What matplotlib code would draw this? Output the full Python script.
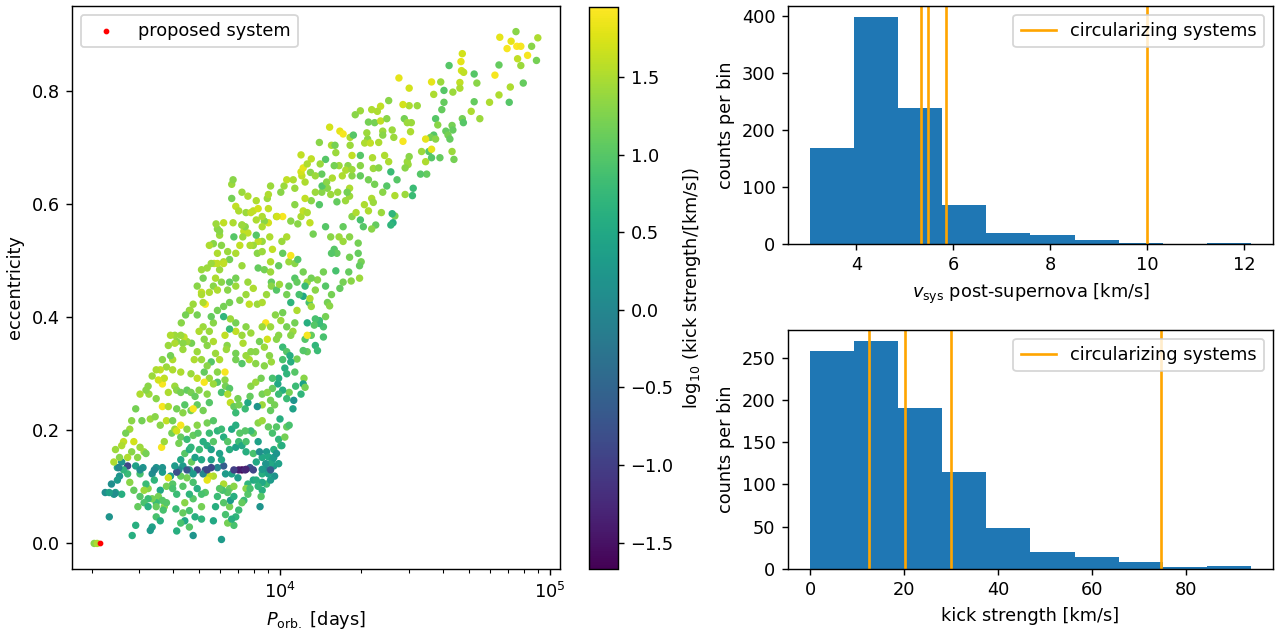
import numpy as np
import matplotlib
matplotlib.use("Agg")
from matplotlib import pyplot as plt

# scatter: orbital period (log10 days), eccentricity, log10 kick strength
log_period = [
    4.874, 4.814, 4.856, 4.877, 4.892, 4.841, 4.932, 4.955, 4.917, 4.880,
    4.950, 4.892, 4.811, 4.796, 4.901, 4.853, 4.849, 4.811, 4.776, 4.740,
    4.675, 4.670, 4.672, 4.680, 4.626, 4.719, 4.729, 4.666, 4.666, 4.640,
    4.607, 4.595, 4.561, 4.569, 4.607, 4.719, 4.708, 4.675, 4.637, 4.640,
    4.679, 4.599, 4.576, 4.584, 4.614, 4.569, 4.557, 4.592, 4.637, 4.551,
    4.539, 4.524, 4.543, 4.520, 4.486, 4.483, 4.508, 4.478, 4.440, 4.402,
    4.478, 4.402, 4.372, 4.360, 4.455, 4.460, 4.471, 4.455, 4.471, 4.474,
    4.463, 4.433, 4.410, 4.493, 4.490, 4.463, 4.425, 4.415, 4.418, 4.410,
    4.425, 4.297, 4.278, 4.339, 4.327, 4.380, 4.324, 4.365, 4.380, 4.415,
    4.421, 4.342, 4.297, 4.345, 4.395, 4.350, 4.380, 4.339, 4.312, 4.345,
    4.327, 4.375, 4.354, 4.339, 4.297, 4.308, 4.266, 4.281, 4.257, 4.242,
    4.257, 4.266, 4.213, 4.210, 4.175, 4.187, 4.154, 4.130, 4.145, 4.115,
    4.092, 4.077, 4.085, 4.054, 4.092, 4.080, 4.077, 4.085, 4.115, 4.145,
    4.168, 4.183, 4.190, 4.203, 4.221, 4.233, 4.259, 4.206, 4.218, 4.230,
    4.251, 4.271, 4.266, 4.297, 4.327, 4.365, 4.154, 4.155, 4.200, 4.039,
    4.009, 3.986, 4.065, 4.100, 4.110, 4.122, 4.168, 4.187, 4.218, 4.233,
    4.233, 4.257, 4.200, 4.210, 4.190, 4.257, 4.289, 4.289, 4.300, 4.294,
    4.254, 4.263, 4.294, 4.233, 4.221, 4.206, 4.160, 4.168, 4.138, 4.190,
    4.175, 4.183, 4.168, 4.145, 4.160, 4.145, 4.130, 4.126, 4.160, 4.130,
    4.138, 4.100, 4.085, 4.115, 4.100, 4.107, 4.115, 4.130, 4.100, 4.085,
    4.110, 4.115, 4.085, 4.054, 4.062, 4.070, 4.092, 4.032, 4.032, 4.054,
    4.039, 4.065, 4.024, 4.006, 4.009, 3.994, 3.964, 3.971, 3.961, 3.956,
    3.941, 3.956, 3.933, 3.918, 3.911, 3.900, 3.888, 3.880, 3.865, 3.870,
    3.858, 3.873, 3.891, 3.911, 3.915, 3.933, 3.918, 3.941, 3.964, 3.967,
    3.967, 3.986, 3.997, 4.024, 4.009, 4.002, 3.982, 4.039, 4.062, 4.054,
    4.024, 3.994, 3.986, 4.009, 4.024, 4.036, 4.062, 4.092, 4.100, 4.047,
    4.039, 4.009, 4.039, 4.017, 4.024, 4.054, 4.088, 4.085, 4.092, 4.077,
    4.057, 4.033, 4.009, 3.991, 3.994, 3.971, 3.971, 3.994, 4.024, 4.047,
    4.050, 3.858, 3.880, 3.900, 3.918, 3.952, 3.988, 3.933, 3.820, 3.820,
    3.825, 3.835, 3.846, 3.858, 3.828, 3.805, 3.812, 3.835, 3.850, 3.858,
    3.835, 3.812, 3.790, 3.782, 3.775, 3.767, 3.790, 3.767, 3.755, 3.752,
    3.767, 3.782, 3.805, 3.835, 3.880, 3.900, 3.873, 3.850, 3.812, 3.790,
    3.767, 3.885, 3.915, 3.933, 3.949, 3.946, 3.933, 3.964, 3.952, 3.923,
    3.941, 3.909, 3.960, 3.967, 3.941, 3.909, 3.885, 3.873, 3.891, 3.862,
    3.858, 3.873, 3.891, 3.835, 3.835, 3.815, 3.790, 3.812, 3.795, 3.803,
    3.800, 3.835, 3.835, 3.858, 3.752, 3.744, 3.737, 3.714, 3.699, 3.718,
    3.752, 3.760, 3.775, 3.744, 3.729, 3.692, 3.681, 3.708, 3.671, 3.654,
    3.643, 3.639, 3.692, 3.722, 3.737, 3.708, 3.714, 3.760, 3.775, 3.790,
    3.767, 3.663, 3.616, 3.609, 3.631, 3.609, 3.639, 3.563, 3.601, 3.578,
    3.631, 3.669, 3.692, 3.718, 3.729, 3.737, 3.767, 3.795, 3.795, 3.767,
    3.752, 3.797, 3.812, 3.782, 3.805, 3.815, 3.828, 3.843, 3.847, 3.835,
    3.870, 3.880, 3.888, 3.891, 3.909, 3.929, 3.933, 3.952, 3.964, 3.979,
    3.964, 3.933, 3.915, 3.918, 3.933, 3.956, 3.971, 3.986, 4.024, 4.033,
    3.999, 3.994, 4.002, 3.976, 3.949, 3.956, 3.971, 3.976, 3.964, 3.952,
    3.946, 3.933, 3.918, 3.900, 3.891, 3.870, 3.900, 3.923, 3.911, 3.933,
    3.949, 3.933, 3.929, 3.925, 3.900, 3.880, 3.873, 3.880, 3.865, 3.858,
    3.846, 3.835, 3.828, 3.805, 3.820, 3.812, 3.815, 3.828, 3.812, 3.828,
    3.805, 3.790, 3.786, 3.843, 3.820, 3.858, 3.846, 3.870, 3.888, 3.797,
    3.790, 3.767, 3.752, 3.737, 3.729, 3.722, 3.714, 3.744, 3.775, 3.767,
    3.760, 3.752, 3.782, 3.797, 3.790, 3.722, 3.708, 3.708, 3.708, 3.684,
    3.677, 3.663, 3.663, 3.677, 3.692, 3.677, 3.663, 3.646, 3.639, 3.646,
    3.631, 3.616, 3.613, 3.616, 3.639, 3.654, 3.631, 3.663, 3.671, 3.684,
    3.692, 3.677, 3.639, 3.624, 3.616, 3.609, 3.631, 3.646, 3.663, 3.593,
    3.601, 3.578, 3.585, 3.563, 3.540, 3.525, 3.533, 3.555, 3.548, 3.570,
    3.563, 3.540, 3.525, 3.510, 3.502, 3.480, 3.491, 3.464, 3.471, 3.434,
    3.434, 3.442, 3.412, 3.404, 3.419, 3.412, 3.389, 3.383, 3.366, 3.451,
    3.464, 3.525, 3.518, 3.480, 3.495, 3.510, 3.578, 3.566, 3.540, 3.601,
    3.419, 3.457, 3.449, 3.480, 3.495, 3.502, 3.487, 3.518, 3.536, 3.555,
    3.560, 3.570, 3.598, 3.609, 3.578, 3.616, 3.601, 3.631, 3.654, 3.631,
    3.624, 3.654, 3.669, 3.677, 3.692, 3.695, 3.714, 3.729, 3.744, 3.752,
    3.737, 3.729, 3.752, 3.767, 3.782, 3.790, 3.805, 3.812, 3.835, 3.846,
    3.858, 3.873, 3.873, 3.820, 3.835, 3.850, 3.782, 3.775, 3.744, 3.708,
    3.700, 3.513, 3.540, 3.563, 3.563, 3.585, 3.585, 3.555, 3.570, 3.548,
    3.601, 3.609, 3.616, 3.631, 3.654, 3.669, 3.684, 3.699, 3.718, 3.729,
    3.737, 3.714, 3.692, 3.669, 3.677, 3.646, 3.639, 3.616, 3.351, 3.404,
    3.396, 3.434, 3.457, 3.472, 3.495, 3.510, 3.540, 3.555, 3.310, 3.321,
    3.825, 3.861, 3.911, 3.933, 3.956, 3.964, 4.002, 4.014, 4.024, 4.048,
    4.054, 4.077, 4.100, 4.112, 4.130, 4.148, 4.172, 4.193, 4.243, 4.248,
    4.266, 4.297, 4.259, 4.313, 4.334, 4.387, 4.321, 4.350, 4.372, 4.395,
    4.478, 4.539, 4.561, 4.576, 4.622, 4.629, 4.561, 4.644, 3.979, 3.964,
    3.956, 3.933, 3.911, 3.888, 3.918, 3.964, 3.976, 3.986, 3.994, 4.006,
    4.017, 3.480, 3.533, 3.563, 3.654, 3.729, 3.828, 3.873, 3.900, 3.933,
    3.401, 3.762, 3.775, 3.752, 3.737, 3.744, 3.729, 3.708, 3.714, 3.692,
    3.708, 3.677, 3.666, 3.649, 3.633, 3.593, 3.585, 3.593, 3.540, 3.525,
    3.510, 3.502, 3.480, 3.464, 3.449, 3.442, 3.427, 3.412, 3.389, 3.383,
    3.396, 3.374, 3.386, 3.366,
]

ecc = [
    0.905, 0.895, 0.888, 0.879, 0.879, 0.875, 0.879, 0.894, 0.863, 0.857,
    0.854, 0.845, 0.846, 0.828, 0.814, 0.807, 0.780, 0.793, 0.780, 0.751,
    0.866, 0.852, 0.836, 0.833, 0.845, 0.830, 0.814, 0.815, 0.805, 0.798,
    0.801, 0.816, 0.816, 0.794, 0.780, 0.781, 0.764, 0.751, 0.739, 0.731,
    0.744, 0.767, 0.751, 0.740, 0.729, 0.722, 0.718, 0.682, 0.693, 0.693,
    0.715, 0.693, 0.653, 0.653, 0.744, 0.728, 0.774, 0.805, 0.823, 0.783,
    0.774, 0.675, 0.773, 0.764, 0.776, 0.751, 0.744, 0.711, 0.675, 0.670,
    0.664, 0.643, 0.657, 0.628, 0.615, 0.617, 0.579, 0.583, 0.567, 0.563,
    0.615, 0.765, 0.758, 0.767, 0.745, 0.729, 0.715, 0.709, 0.722, 0.731,
    0.718, 0.682, 0.686, 0.663, 0.632, 0.635, 0.621, 0.610, 0.599, 0.603,
    0.588, 0.585, 0.563, 0.556, 0.572, 0.560, 0.578, 0.585, 0.614, 0.606,
    0.628, 0.650, 0.621, 0.604, 0.628, 0.617, 0.621, 0.621, 0.599, 0.606,
    0.610, 0.578, 0.588, 0.599, 0.639, 0.650, 0.657, 0.664, 0.680, 0.709,
    0.679, 0.736, 0.704, 0.704, 0.729, 0.724, 0.718, 0.691, 0.668, 0.650,
    0.668, 0.722, 0.686, 0.650, 0.643, 0.664, 0.653, 0.632, 0.668, 0.570,
    0.578, 0.578, 0.565, 0.585, 0.567, 0.547, 0.560, 0.542, 0.542, 0.560,
    0.534, 0.542, 0.520, 0.513, 0.513, 0.506, 0.531, 0.513, 0.498, 0.491,
    0.480, 0.464, 0.469, 0.462, 0.451, 0.482, 0.480, 0.455, 0.466, 0.440,
    0.426, 0.420, 0.401, 0.394, 0.383, 0.389, 0.397, 0.386, 0.365, 0.350,
    0.341, 0.339, 0.341, 0.368, 0.390, 0.426, 0.419, 0.448, 0.462, 0.437,
    0.433, 0.469, 0.480, 0.469, 0.462, 0.440, 0.455, 0.455, 0.498, 0.495,
    0.509, 0.502, 0.542, 0.534, 0.513, 0.491, 0.498, 0.520, 0.542, 0.567,
    0.570, 0.592, 0.534, 0.534, 0.545, 0.527, 0.527, 0.549, 0.552, 0.560,
    0.563, 0.585, 0.585, 0.572, 0.513, 0.516, 0.487, 0.484, 0.480, 0.462,
    0.455, 0.448, 0.458, 0.440, 0.408, 0.394, 0.404, 0.426, 0.412, 0.390,
    0.383, 0.368, 0.361, 0.347, 0.339, 0.332, 0.326, 0.361, 0.368, 0.375,
    0.368, 0.325, 0.321, 0.310, 0.300, 0.303, 0.292, 0.282, 0.276, 0.264,
    0.278, 0.267, 0.271, 0.282, 0.292, 0.292, 0.274, 0.264, 0.256, 0.238,
    0.253, 0.621, 0.614, 0.588, 0.592, 0.610, 0.578, 0.560, 0.610, 0.635,
    0.643, 0.596, 0.588, 0.563, 0.542, 0.516, 0.502, 0.513, 0.527, 0.491,
    0.469, 0.462, 0.498, 0.527, 0.545, 0.556, 0.567, 0.513, 0.495, 0.455,
    0.448, 0.462, 0.448, 0.455, 0.462, 0.451, 0.440, 0.430, 0.426, 0.419,
    0.412, 0.423, 0.423, 0.426, 0.440, 0.390, 0.383, 0.383, 0.361, 0.357,
    0.347, 0.339, 0.332, 0.321, 0.314, 0.318, 0.325, 0.332, 0.339, 0.354,
    0.368, 0.383, 0.372, 0.375, 0.390, 0.397, 0.401, 0.379, 0.368, 0.350,
    0.343, 0.336, 0.325, 0.318, 0.390, 0.401, 0.375, 0.383, 0.375, 0.361,
    0.357, 0.336, 0.325, 0.321, 0.350, 0.339, 0.325, 0.325, 0.354, 0.357,
    0.365, 0.354, 0.404, 0.423, 0.444, 0.444, 0.426, 0.469, 0.484, 0.495,
    0.495, 0.412, 0.357, 0.368, 0.368, 0.354, 0.343, 0.325, 0.325, 0.312,
    0.303, 0.300, 0.292, 0.303, 0.314, 0.292, 0.303, 0.303, 0.289, 0.285,
    0.282, 0.278, 0.274, 0.267, 0.264, 0.249, 0.242, 0.256, 0.245, 0.231,
    0.238, 0.249, 0.260, 0.278, 0.285, 0.292, 0.264, 0.267, 0.253, 0.245,
    0.235, 0.245, 0.242, 0.213, 0.217, 0.206, 0.195, 0.206, 0.206, 0.209,
    0.220, 0.184, 0.173, 0.166, 0.162, 0.153, 0.148, 0.137, 0.141, 0.130,
    0.141, 0.152, 0.180, 0.195, 0.199, 0.199, 0.159, 0.162, 0.144, 0.123,
    0.105, 0.094, 0.083, 0.065, 0.112, 0.105, 0.097, 0.087, 0.076, 0.072,
    0.059, 0.047, 0.032, 0.036, 0.043, 0.065, 0.076, 0.083, 0.097, 0.101,
    0.090, 0.105, 0.094, 0.116, 0.123, 0.130, 0.130, 0.130, 0.134, 0.123,
    0.137, 0.134, 0.119, 0.119, 0.112, 0.130, 0.123, 0.134, 0.097, 0.083,
    0.065, 0.040, 0.007, 0.051, 0.072, 0.090, 0.087, 0.065, 0.043, 0.047,
    0.014, 0.029, 0.058, 0.079, 0.097, 0.108, 0.087, 0.072, 0.054, 0.040,
    0.036, 0.022, 0.061, 0.087, 0.101, 0.116, 0.119, 0.130, 0.144, 0.152,
    0.130, 0.123, 0.137, 0.130, 0.126, 0.137, 0.148, 0.159, 0.166, 0.119,
    0.105, 0.101, 0.116, 0.126, 0.134, 0.123, 0.112, 0.094, 0.083, 0.065,
    0.076, 0.072, 0.079, 0.097, 0.105, 0.123, 0.134, 0.137, 0.152, 0.123,
    0.137, 0.108, 0.144, 0.119, 0.130, 0.087, 0.090, 0.087, 0.047, 0.014,
    0.032, 0.029, 0.023, 0.083, 0.094, 0.079, 0.072, 0.059, 0.065, 0.097,
    0.180, 0.180, 0.162, 0.170, 0.162, 0.159, 0.217, 0.220, 0.224, 0.209,
    0.170, 0.180, 0.195, 0.202, 0.217, 0.199, 0.217, 0.209, 0.202, 0.188,
    0.177, 0.184, 0.170, 0.191, 0.209, 0.195, 0.180, 0.173, 0.166, 0.180,
    0.195, 0.213, 0.217, 0.199, 0.202, 0.188, 0.180, 0.166, 0.170, 0.180,
    0.173, 0.162, 0.180, 0.202, 0.209, 0.195, 0.148, 0.159, 0.148, 0.148,
    0.166, 0.264, 0.256, 0.282, 0.242, 0.242, 0.267, 0.307, 0.292, 0.289,
    0.307, 0.278, 0.271, 0.267, 0.271, 0.267, 0.260, 0.271, 0.285, 0.264,
    0.249, 0.235, 0.245, 0.235, 0.238, 0.245, 0.231, 0.238, 0.090, 0.152,
    0.134, 0.152, 0.094, 0.065, 0.072, 0.065, 0.047, 0.040, 0.000, 0.000,
    0.567, 0.542, 0.606, 0.578, 0.617, 0.632, 0.621, 0.632, 0.643, 0.643,
    0.628, 0.687, 0.671, 0.656, 0.650, 0.671, 0.639, 0.646, 0.660, 0.621,
    0.661, 0.668, 0.704, 0.708, 0.708, 0.686, 0.726, 0.744, 0.747, 0.751,
    0.684, 0.675, 0.697, 0.715, 0.722, 0.715, 0.682, 0.679, 0.119, 0.112,
    0.123, 0.108, 0.112, 0.097, 0.101, 0.130, 0.152, 0.159, 0.141, 0.173,
    0.188, 0.130, 0.130, 0.134, 0.130, 0.130, 0.130, 0.131, 0.130, 0.131,
    0.134, 0.565, 0.552, 0.530, 0.527, 0.495, 0.487, 0.484, 0.469, 0.455,
    0.440, 0.423, 0.412, 0.404, 0.390, 0.368, 0.350, 0.332, 0.307, 0.296,
    0.278, 0.271, 0.264, 0.238, 0.217, 0.202, 0.195, 0.173, 0.166, 0.144,
    0.112, 0.105, 0.088, 0.090,
]

log_kick = [
    1.3, 1.8, 1.8, 1.95, 1.9, 1.9, 1.3, 1.5, 1.9, 1.6,
    1.2, 1.4, 1.1, 1.9, 1.1, 1.5, 1.0, 1.5, 1.5, 1.4,
    1.7, 1.8, 1.7, 1.6, 1.0, 1.0, 1.3, 1.6, 1.5, 1.4,
    1.0, 1.4, 1.8, 1.5, 1.1, 1.1, 1.5, 1.2, 1.2, 1.1,
    1.0, 1.1, 1.0, 1.3, 1.1, 1.0, 1.2, 1.1, 1.4, 1.0,
    1.8, 1.4, 1.1, 1.0, 1.4, 1.5, 1.4, 1.7, 1.8, 1.3,
    1.5, 1.5, 1.6, 1.5, 1.7, 1.2, 1.4, 1.9, 1.4, 1.4,
    1.3, 1.0, 0.8, 0.8, 0.8, 1.4, 1.2, 0.7, 0.6, 0.7,
    1.5, 1.4, 1.3, 1.5, 1.2, 1.4, 1.3, 1.5, 1.3, 1.4,
    1.4, 1.5, 1.0, 1.4, 1.0, 1.2, 1.3, 1.5, 1.5, 1.4,
    1.5, 1.4, 1.1, 1.3, 0.9, 1.0, 1.3, 1.5, 1.4, 1.4,
    1.5, 1.3, 1.4, 1.1, 1.3, 1.4, 1.3, 1.4, 1.0, 1.3,
    1.6, 1.5, 1.6, 1.3, 1.5, 1.6, 1.7, 1.8, 1.6, 1.3,
    1.0, 1.7, 1.5, 1.2, 1.8, 1.9, 1.5, 1.4, 1.4, 1.5,
    1.3, 1.0, 1.6, 1.1, 1.2, 1.3, 1.1, 1.0, 1.2, 1.3,
    1.9, 1.4, 1.3, 1.5, 1.6, 1.2, 1.0, 1.3, 1.4, 1.1,
    1.4, 1.3, 1.0, 1.1, 1.0, 1.2, 1.2, 1.1, 1.2, 1.1,
    1.1, 1.3, 1.4, 1.2, 1.1, 0.9, 1.2, 1.0, 1.3, 1.2,
    1.2, 1.3, 1.2, 0.8, 0.9, 0.8, 0.9, 1.0, 0.9, 0.7,
    0.8, 1.1, 1.0, 1.1, 0.6, 0.9, 1.4, 1.3, 1.4, 0.5,
    1.5, 1.2, 1.2, 1.0, 1.1, 0.9, 0.8, 1.1, 1.4, 1.3,
    1.9, 1.0, 1.5, 1.4, 1.1, 1.1, 1.5, 1.6, 1.5, 1.7,
    1.3, 1.6, 1.4, 1.6, 1.0, 1.4, 1.5, 1.6, 1.6, 1.3,
    1.4, 1.4, 1.6, 1.5, 1.3, 1.4, 1.1, 1.2, 1.4, 1.1,
    1.3, 1.0, 1.4, 1.2, 1.2, 1.4, 1.3, 0.7, 1.5, 1.2,
    1.2, 1.3, 1.3, 0.8, 1.0, 0.6, 1.2, 1.0, 1.9, 1.4,
    1.3, 0.9, 0.6, 0.6, 0.7, 1.0, 1.3, 0.4, 1.2, 0.7,
    0.8, 1.2, 0.6, 0.5, 0.6, 0.9, 1.1, 0.8, 0.8, 0.4,
    0.2, 1.4, 1.5, 1.6, 1.7, 1.4, 1.7, 1.5, 1.2, 1.4,
    1.3, 1.6, 1.5, 1.4, 1.0, 1.4, 1.2, 1.5, 1.6, 1.4,
    1.2, 1.1, 1.5, 1.3, 1.4, 1.3, 1.6, 1.5, 1.6, 1.3,
    1.5, 1.3, 1.3, 1.4, 1.4, 1.5, 1.4, 1.3, 1.2, 1.2,
    1.2, 1.6, 1.4, 1.5, 1.4, 1.9, 1.4, 1.4, 1.7, 1.2,
    1.4, 1.3, 1.3, 1.4, 1.3, 1.3, 1.5, 1.4, 1.3, 1.5,
    1.4, 1.3, 1.4, 1.6, 1.2, 1.4, 0.7, 0.8, 1.6, 1.3,
    1.4, 1.2, 1.2, 1.0, 1.3, 1.1, 1.4, 1.4, 1.5, 1.3,
    1.5, 1.4, 1.5, 1.0, 1.3, 1.4, 1.5, 1.4, 1.2, 1.4,
    1.6, 1.3, 1.2, 1.9, 1.5, 1.6, 1.5, 1.5, 1.4, 1.6,
    1.6, 1.3, 1.3, 1.4, 1.4, 1.5, 1.4, 1.3, 1.5, 1.4,
    1.5, 1.4, 1.6, 1.1, 1.3, 1.4, 1.3, 1.9, 1.3, 1.0,
    1.4, 1.2, 1.0, 0.9, 1.5, 1.6, 1.1, 1.2, 1.2, 0.8,
    0.8, 0.5, 1.1, 1.3, 1.4, 1.2, 1.2, 1.3, 1.2, 1.2,
    1.1, 1.4, 0.2, 1.3, 1.4, 1.1, 0.9, 1.0, 1.1, 0.9,
    0.6, 0.7, 1.0, 0.6, 0.3, 0.5, 0.4, 0.3, 0.5, 0.0,
    0.2, 0.5, 0.4, 1.1, 0.8, 1.0, 0.9, 0.1, 0.5, 0.6,
    0.8, 0.6, 1.0, 0.2, 0.5, 0.7, 1.3, 1.0, 0.8, 1.1,
    0.8, 0.7, 0.9, 1.2, 0.6, 1.2, 0.3, 0.6, 1.1, 1.3,
    1.0, 1.5, 0.9, 0.3, 0.4, -1.67, -1.4, -1.2, -0.7, 0.3,
    -0.6, 0.0, 1.5, 1.6, 1.8, -0.8, 0.0, -0.9, 1.0, 0.8,
    0.6, 0.5, 0.3, 0.9, 1.0, 1.0, 0.9, 1.2, 0.7, 0.6,
    0.2, 1.0, 0.9, 1.0, 0.6, 0.9, 0.7, 1.3, 1.1, 0.5,
    0.9, 0.6, 0.8, 0.8, 1.0, 1.2, 1.1, 0.5, 1.1, 0.4,
    -0.9, 0.3, 0.3, 0.0, -0.8, 0.3, 0.5, 1.0, 0.6, 0.3,
    1.0, 1.2, 1.7, 0.3, 0.2, 0.1, 0.7, 0.5, 1.2, 1.3,
    1.0, 0.8, 1.2, 1.3, 0.8, 0.9, 0.2, 0.4, 1.3, 0.8,
    -0.9, 1.3, 0.2, 0.2, 0.7, 0.6, 0.4, 0.3, 0.2, 0.6,
    0.6, 0.4, 0.3, 1.0, 1.4, 0.8, 1.0, 0.9, 1.1, 0.9,
    1.6, 1.7, 1.3, 1.4, 1.4, 1.2, 1.2, 1.4, 1.3, 1.3,
    1.9, 1.4, 1.2, 1.4, 1.6, 1.7, 1.2, 1.9, 1.3, 1.1,
    1.2, 0.8, 0.7, 1.1, 1.3, 1.0, 0.6, 0.6, 0.4, 1.0,
    0.8, 1.2, 1.0, 0.7, 0.8, 0.6, 1.0, 0.6, 0.4, 0.8,
    0.5, 0.6, 0.9, 0.5, 0.6, 1.0, 0.5, 0.4, 0.4, 0.5,
    0.8, 1.4, 1.3, 1.9, 1.9, 1.5, 1.5, 1.6, 1.6, 1.7,
    1.5, 1.4, 1.3, 1.2, 1.1, 1.2, 1.1, 1.3, 1.9, 1.3,
    1.0, 1.2, 1.1, 1.2, 1.9, 1.0, 1.3, 1.2, 0.1, 1.3,
    0.5, 1.5, 1.1, 1.1, 0.9, 0.6, 0.9, 0.6, 1.3, 1.5,
    1.5, 1.4, 1.5, 1.5, 1.5, 1.4, 1.3, 1.4, 1.6, 1.5,
    1.4, 1.6, 1.5, 1.3, 1.4, 1.4, 1.3, 1.5, 1.5, 1.2,
    1.4, 1.3, 1.4, 1.5, 1.6, 1.5, 1.4, 1.2, 1.6, 1.3,
    1.3, 1.5, 1.8, 1.3, 1.2, 1.1, 1.0, 1.2, 0.2, 0.3,
    0.4, 0.5, 0.6, 0.9, 0.7, -0.6, 0.3, 0.2, 0.4, 0.6,
    1.2, 0.1, 0.0, 0.2, -0.7, -0.9, -1.0, -1.3, -0.9, 0.3,
    0.0, 1.4, 1.3, 1.3, 1.5, 1.4, 1.4, 1.4, 1.2, 1.3,
    1.5, 1.4, 1.4, 1.2, 1.3, 1.5, 1.4, 1.2, 1.5, 1.4,
    1.3, 1.3, 1.5, 1.2, 1.3, 1.4, 1.2, 1.5, 1.4, 1.5,
    0.3, 0.1, 0.1, 0.4,
]

proposed_period = [2140.0]
proposed_ecc = [0.0]

# histogram of systemic velocity after the supernova
vsys_edges = [3.042, 3.952, 4.861, 5.771, 6.680, 7.590, 8.499, 9.409, 10.318, 11.228, 12.137]
vsys_counts = [168, 398, 238, 68, 20, 16, 7, 2, 0, 2]
vsys_circ = [5.34, 5.48, 5.85, 10.0]

# histogram of kick strengths
kick_edges = [0.0, 9.37, 18.74, 28.11, 37.48, 46.85, 56.22, 65.59, 74.96, 84.33, 93.7]
kick_counts = [258, 269, 190, 115, 49, 20, 14, 8, 2, 4]
kick_circ = [12.6, 20.2, 29.9, 74.6]

assert len(log_period) == len(ecc) == len(log_kick)
period = 10 ** np.array(log_period)

fig = plt.figure(figsize=(10, 5), dpi=128)
ax = fig.add_axes([0.05625, 0.1109, 0.38125, 0.8797])
cax = fig.add_axes([0.4602, 0.1109, 0.0227, 0.8781])
ax1 = fig.add_axes([0.6156, 0.6188, 0.3789, 0.3719])
ax2 = fig.add_axes([0.6156, 0.1109, 0.3789, 0.3734])

sc = ax.scatter(period, ecc, c=log_kick, cmap="viridis", s=10)
ax.scatter(proposed_period, proposed_ecc, color="red", s=5, label="proposed system")
ax.set_xscale("log")
ax.set_xlabel(r"$P_{\rm orb.}$ [days]")
ax.set_ylabel("eccentricity")
ax.legend(loc="upper left")
cbar = fig.colorbar(sc, cax=cax)
cbar.set_label(r"log$_{10}$ (kick strength/[km/s])")

ax1.hist(vsys_edges[:-1], bins=vsys_edges, weights=vsys_counts, color="C0")
for i, v in enumerate(vsys_circ):
    ax1.axvline(v, color="orange", label="circularizing systems" if i == 0 else None)
ax1.set_xlabel(r"$v_{\rm sys}$ post-supernova [km/s]")
ax1.set_ylabel("counts per bin")
ax1.legend(loc="upper right")

ax2.hist(kick_edges[:-1], bins=kick_edges, weights=kick_counts, color="C0")
for i, v in enumerate(kick_circ):
    ax2.axvline(v, color="orange", label="circularizing systems" if i == 0 else None)
ax2.set_xlabel("kick strength [km/s]")
ax2.set_ylabel("counts per bin")
ax2.legend(loc="upper right")

fig.savefig("out.png", dpi=128)
